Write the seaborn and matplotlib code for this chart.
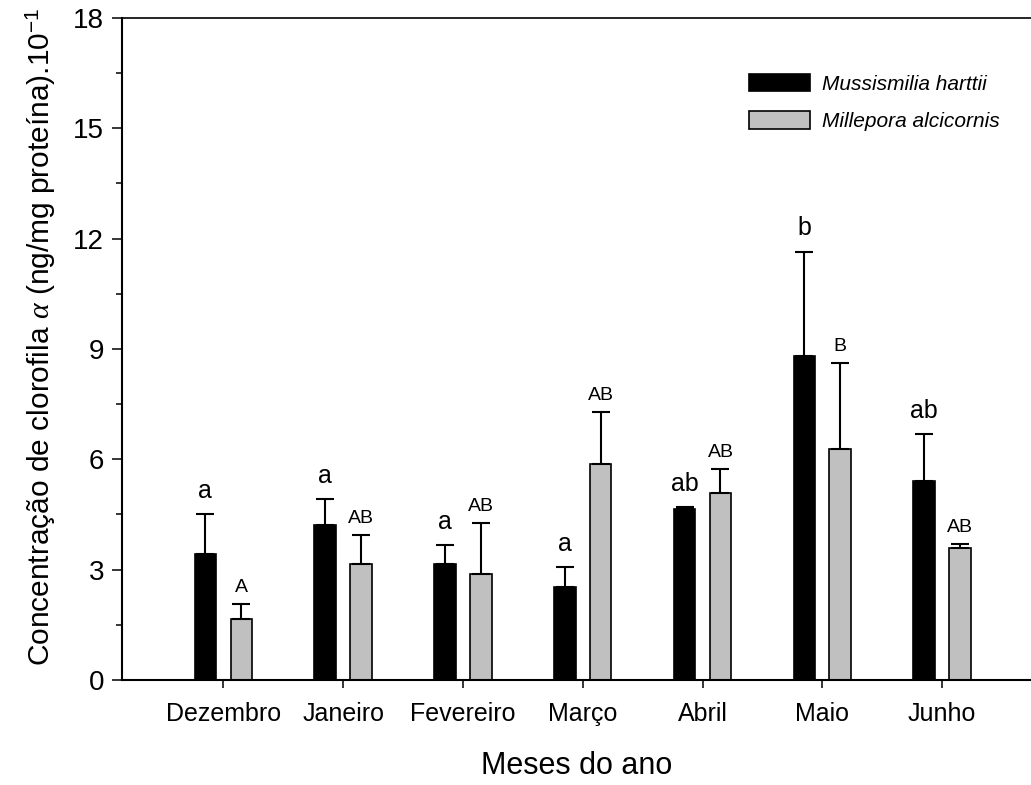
import matplotlib
matplotlib.use("Agg")
import matplotlib.pyplot as plt
import numpy as np
import pandas as pd
import seaborn as sns
from matplotlib.patches import Patch
from matplotlib.ticker import MultipleLocator

# Monthly chlorophyll-a concentration (x10^-1 ng/mg protein), mean and upper error
months = ["Dezembro", "Janeiro", "Fevereiro", "Março", "Abril", "Maio", "Junho"]
species = ["Mussismilia harttii", "Millepora alcicornis"]

harttii_mean = [3.42, 4.21, 3.15, 2.52, 4.65, 8.82, 5.42]
harttii_err = [1.09, 0.71, 0.52, 0.54, 0.06, 2.83, 1.26]
alcicornis_mean = [1.66, 3.15, 2.88, 5.86, 5.08, 6.27, 3.58]
alcicornis_err = [0.41, 0.79, 1.38, 1.42, 0.66, 2.34, 0.12]

# Significance letters (Tukey groups)
harttii_letters = ["a", "a", "a", "a", "ab", "b", "ab"]
alcicornis_letters = ["A", "AB", "AB", "AB", "AB", "B", "AB"]

colors = ["black", "#c0c0c0"]

sns.set_style("ticks")
plt.rcParams["font.family"] = ["Liberation Sans", "DejaVu Sans"]
plt.rcParams["mathtext.fontset"] = "custom"
plt.rcParams["mathtext.rm"] = "Liberation Sans"
plt.rcParams["mathtext.it"] = "Liberation Serif:italic"
for key in ["text.color", "axes.labelcolor", "xtick.color", "ytick.color",
            "axes.edgecolor"]:
    plt.rcParams[key] = "black"

df = pd.DataFrame({
    "Mês": months * 2,
    "Espécie": [species[0]] * len(months) + [species[1]] * len(months),
    "Valor": harttii_mean + alcicornis_mean,
})

fig = plt.figure(figsize=(10.31, 7.85), dpi=100)
ax = fig.add_axes([0.1183, 0.1338, 0.8817, 0.8433])

sns.barplot(data=df, x="Mês", y="Valor", hue="Espécie", order=months,
            hue_order=species, palette=colors, saturation=1, width=0.6,
            gap=0.4, errorbar=None, edgecolor="black", linewidth=1.2,
            legend=False, ax=ax)

# One-sided error bars and group letters above each bar
for cont, errs, letters, fs, off in zip(ax.containers,
                                        [harttii_err, alcicornis_err],
                                        [harttii_letters, alcicornis_letters],
                                        [18, 14], [8, 6]):
    for bar, e, lab in zip(cont, errs, letters):
        xc = bar.get_x() + bar.get_width() / 2
        h = bar.get_height()
        ax.errorbar(xc, h, yerr=[[0], [e]], fmt="none", ecolor="black",
                    elinewidth=1.5, capsize=6.5, capthick=1.5, zorder=3)
        ax.annotate(lab, (xc, h + e), xytext=(0, off), textcoords="offset points",
                    ha="center", va="bottom", fontsize=fs)

ax.set_ylim(0, 18)
ax.set_xlim(-0.846, 6.742)
ax.yaxis.set_major_locator(MultipleLocator(3))
ax.yaxis.set_minor_locator(MultipleLocator(1.5))
ax.tick_params(axis="y", which="major", direction="out", length=7, width=1.1,
               labelsize=20, pad=6)
ax.tick_params(axis="y", which="minor", direction="out", length=4.5, width=1.1)
ax.tick_params(axis="x", direction="out", length=6, width=1.1, labelsize=18, pad=10)

for side in ["left", "bottom"]:
    ax.spines[side].set_linewidth(1.5)
ax.spines["top"].set_linewidth(1.2)
ax.spines["right"].set_visible(False)

ax.set_xlabel("Meses do ano", fontsize=22, labelpad=18)
ax.set_ylabel("Concentração de clorofila $\\alpha$ (ng/mg proteína).10$^{-1}$",
              fontsize=21.5)
ax.yaxis.set_label_coords(-0.0704, 0.519)

handles = [Patch(facecolor=c, edgecolor="black", linewidth=1.2) for c in colors]
ax.legend(handles, species, loc="upper right", bbox_to_anchor=(0.970, 0.906),
          bbox_transform=fig.transFigure, frameon=False, borderpad=0,
          borderaxespad=0, handlelength=2.9, handleheight=0.9,
          handletextpad=0.6, labelspacing=0.85,
          prop={"style": "italic", "size": 15})

fig.savefig("out.png", dpi=100)
